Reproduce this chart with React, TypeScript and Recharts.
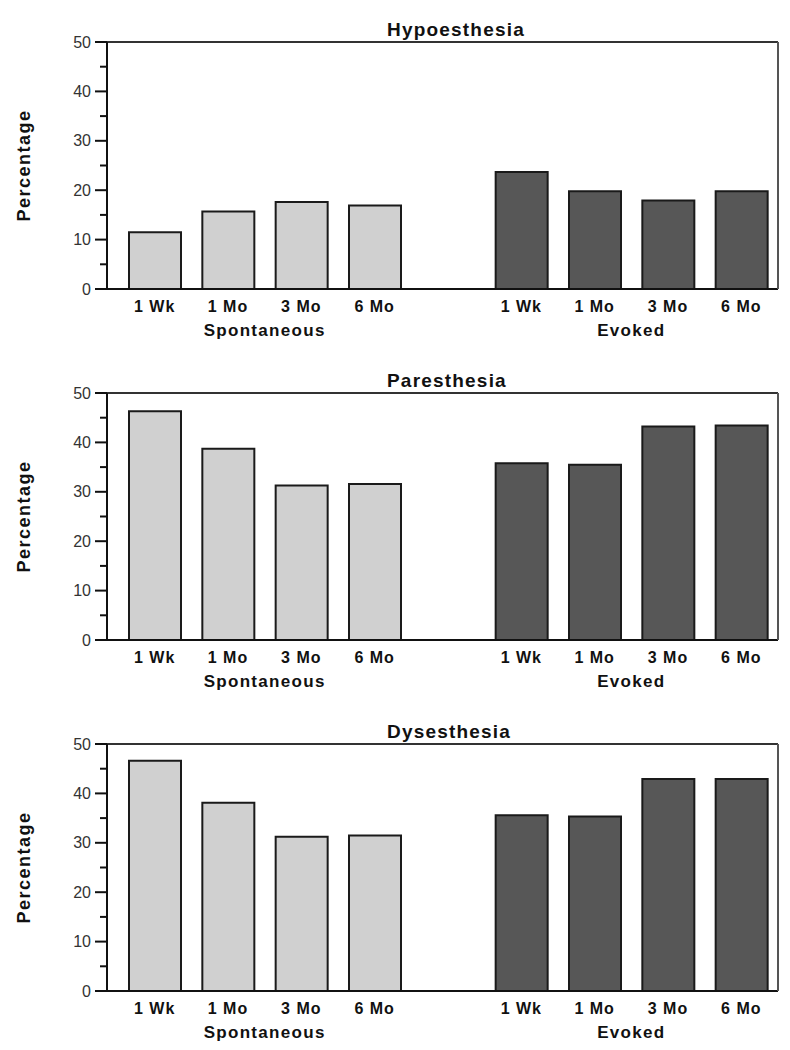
import React from "react";
import { BarChart, Bar, XAxis, YAxis, Cell } from "recharts";

const timepoints = ["1 Wk", "1 Mo", "3 Mo", "6 Mo"];
const groupNames = ["Spontaneous", "Evoked"];
const yTicks = [0, 5, 10, 15, 20, 25, 30, 35, 40, 45, 50];
const majorTicks = [0, 10, 20, 30, 40, 50];
const panelTitles = ["Hypoesthesia", "Paresthesia", "Dysesthesia"];

const hypoSpontaneous = [11.5, 15.7, 17.6, 16.9];
const hypoEvoked = [23.7, 19.8, 17.9, 19.8];
const paresSpontaneous = [46.3, 38.7, 31.3, 31.6];
const paresEvoked = [35.8, 35.5, 43.2, 43.4];
const dysSpontaneous = [46.6, 38.1, 31.2, 31.5];
const dysEvoked = [35.6, 35.3, 42.9, 42.9];

const groupColors = ["#d0d0d0", "#575757"];
const FONT = "'Liberation Sans', Arial, sans-serif";

type Row = { key: string; label: string; group: number; value: number | null };

function buildRows(spont: number[], evoked: number[]): Row[] {
  const rows: Row[] = [];
  spont.forEach((v, i) => rows.push({ key: `s${i}`, label: timepoints[i], group: 0, value: v }));
  rows.push({ key: "gap", label: "", group: -1, value: null });
  evoked.forEach((v, i) => rows.push({ key: `e${i}`, label: timepoints[i], group: 1, value: v }));
  return rows;
}

const panels = [
  { title: panelTitles[0], rows: buildRows(hypoSpontaneous, hypoEvoked) },
  { title: panelTitles[1], rows: buildRows(paresSpontaneous, paresEvoked) },
  { title: panelTitles[2], rows: buildRows(dysSpontaneous, dysEvoked) },
];

const XTick = (props: any) => {
  const { x, y, payload, rows } = props;
  const idx = payload.index;
  const row: Row = rows[idx];
  const half = typeof payload.offset === "number" && payload.offset > 0 ? payload.offset : 36.7;
  return (
    <g>
      <text x={x} y={y + 23} textAnchor="middle" fontFamily={FONT} fontWeight="bold" fontSize={16} letterSpacing={1} fill="#111">
        {row ? row.label : ""}
      </text>
      {(idx === 1 || idx === 6) && (
        <text x={x + half} y={y + 47} textAnchor="middle" fontFamily={FONT} fontWeight="bold" fontSize={17} letterSpacing={1.3} fill="#111">
          {groupNames[idx === 1 ? 0 : 1]}
        </text>
      )}
    </g>
  );
};

const YTick = (props: any) => {
  const { x, y, payload } = props;
  const major = majorTicks.includes(payload.value);
  return (
    <g>
      <line x1={x - (major ? 12 : 7)} x2={x} y1={y} y2={y} stroke="#111" strokeWidth={2} />
      {major && (
        <text x={x - 16} y={y + 5.5} textAnchor="end" fontFamily={FONT} fontSize={16} fill="#333">
          {payload.value}
        </text>
      )}
    </g>
  );
};

const YLabel = (props: any) => {
  const vb = props.viewBox || { x: 47, y: 42, width: 60, height: 247 };
  const cx = vb.x - 23;
  const cy = vb.y + vb.height / 2;
  return (
    <text x={cx} y={cy} transform={`rotate(-90, ${cx}, ${cy})`} textAnchor="middle" dominantBaseline="central" fontFamily={FONT} fontWeight="bold" fontSize={18} letterSpacing={1.5} fill="#111">
      Percentage
    </text>
  );
};

const makeTitle = (title: string) => (props: any) => {
  const vb = props.viewBox || { x: 107, y: 41, width: 671, height: 1 };
  return (
    <text x={vb.x + 280} y={vb.y - 5} textAnchor="start" fontFamily={FONT} fontWeight="bold" fontSize={19} letterSpacing={1.2} fill="#111">
      {title}
    </text>
  );
};

function Panel({ title, rows, top }: { title: string; rows: Row[]; top: number }) {
  return (
    <div style={{ position: "absolute", left: 0, top }}>
      <BarChart width={790} height={351} data={rows} margin={{ top: 41, right: 11, bottom: 15, left: 47 }}>
        <XAxis
          dataKey="key"
          type="category"
          interval={0}
          height={47}
          padding={{ left: 11, right: 0 }}
          tickSize={0}
          tickMargin={0}
          tickLine={false}
          axisLine={{ stroke: "#111", strokeWidth: 2 }}
          tick={<XTick rows={rows} />}
        />
        <XAxis
          xAxisId="top"
          dataKey="key"
          type="category"
          orientation="top"
          height={1}
          tick={false}
          tickLine={false}
          axisLine={{ stroke: "#333", strokeWidth: 2 }}
          label={makeTitle(title)}
        />
        <YAxis
          type="number"
          domain={[0, 50]}
          ticks={yTicks}
          interval={0}
          width={60}
          tickSize={0}
          tickMargin={0}
          tickLine={false}
          axisLine={{ stroke: "#111", strokeWidth: 2 }}
          tick={<YTick />}
          label={<YLabel />}
        />
        <YAxis
          yAxisId="right"
          orientation="right"
          type="number"
          domain={[0, 50]}
          width={1}
          tick={false}
          tickLine={false}
          axisLine={{ stroke: "#555", strokeWidth: 2 }}
        />
        <Bar dataKey="value" barSize={52} stroke="#1a1a1a" strokeWidth={2} isAnimationActive={false}>
          {rows.map((r) => (
            <Cell key={r.key} fill={r.group >= 0 ? groupColors[r.group] : "none"} />
          ))}
        </Bar>
      </BarChart>
    </div>
  );
}

export default function App() {
  return (
    <div style={{ position: "absolute", left: 0, top: 0, width: 790, height: 1050, background: "#fff" }}>
      {panels.map((p, i) => (
        <Panel key={p.title} title={p.title} rows={p.rows} top={i * 351} />
      ))}
    </div>
  );
}
